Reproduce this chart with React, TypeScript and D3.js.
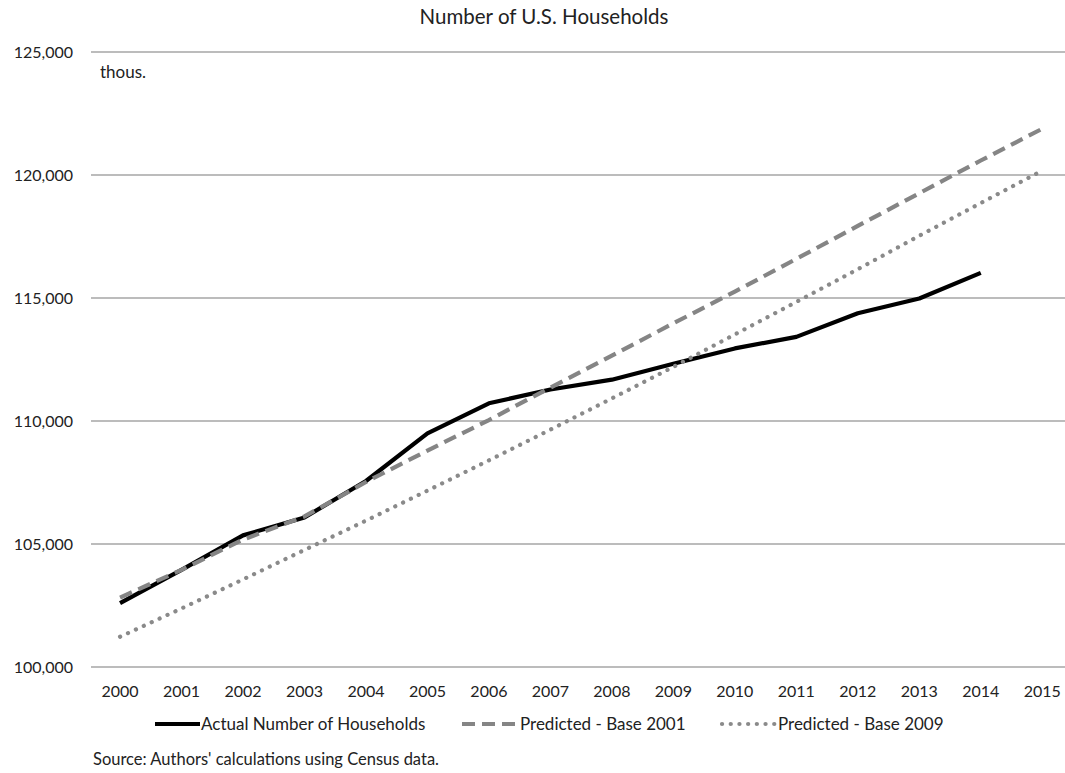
import React from "react";
import * as d3 from "d3";

const years = ["2000","2001","2002","2003","2004","2005","2006","2007","2008","2009","2010","2011","2012","2013","2014","2015"];

// Households, thousands
const actual = [102600, 103950, 105350, 106080, 107560, 109500, 110720, 111280, 111680, 112330, 112950, 113420, 114380, 114980, 116020];
const predicted2001 = [102820, 103950, 105180, 106120, 107520, 108800, 110040, 111360, 112660, 113970, 115260, 116590, 117930, 119260, 120590, 121880];
const predicted2009 = [101230, 102380, 103560, 104760, 105950, 107170, 108400, 109650, 110920, 112200, 113520, 114840, 116170, 117530, 118860, 120180];

const yTicks = [100000, 105000, 110000, 115000, 120000, 125000];

const W = 1065;
const H = 773;
const FONT = "Lato, 'Open Sans', sans-serif";

export default function App() {
  const x = d3.scalePoint<string>().domain(years).range([89.3, 1073]).padding(0.5);
  const y = d3.scaleLinear().domain([100000, 125000]).range([667, 52]);
  const line = d3
    .line<number>()
    .x((_, i) => x(years[i]) as number)
    .y((d) => y(d));

  const fmt = d3.format(",");

  const series = [
    { name: "Actual Number of Households", values: actual, stroke: "#000000", dash: "none", cap: "butt" as const, lx: 155, lw: 45 },
    { name: "Predicted - Base 2001", values: predicted2001, stroke: "#858585", dash: "13 7", cap: "butt" as const, lx: 462, lw: 57 },
    { name: "Predicted - Base 2009", values: predicted2009, stroke: "#8a8a8a", dash: "0.1 8.6", cap: "round" as const, lx: 722, lw: 55 },
  ];

  return (
    <svg
      width={W}
      height={H}
      style={{ position: "absolute", left: 0, top: 0, background: "#fff" }}
      fontFamily={FONT}
    >
      <rect width={W} height={H} fill="#fff" />
      <text x={544} y={24} textAnchor="middle" fontSize={20.5} fill="#222">
        Number of U.S. Households
      </text>

      {yTicks.map((t) => (
        <g key={t}>
          <line x1={91} x2={W} y1={y(t)} y2={y(t)} stroke="#a6a6a6" strokeWidth={1.3} />
          <text x={73} y={y(t) + 5.5} textAnchor="end" fontSize={16} fill="#222">
            {fmt(t)}
          </text>
        </g>
      ))}

      <text x={100} y={78} fontSize={17} fill="#222">thous.</text>

      {years.map((yr) => (
        <text key={yr} x={x(yr)} y={697} textAnchor="middle" fontSize={16} fill="#222">
          {yr}
        </text>
      ))}

      {series.map((s) => (
        <path
          key={s.name}
          d={line(s.values) ?? ""}
          fill="none"
          stroke={s.stroke}
          strokeWidth={4.2}
          strokeDasharray={s.dash}
          strokeLinecap={s.cap}
          strokeLinejoin="round"
        />
      ))}

      {series.map((s) => (
        <g key={"lg" + s.name}>
          <line
            x1={s.lx}
            x2={s.lx + s.lw}
            y1={724}
            y2={724}
            stroke={s.stroke}
            strokeWidth={4.2}
            strokeDasharray={s.dash}
            strokeLinecap={s.cap}
          />
          <text x={s.lx + s.lw + 1} y={730} fontSize={17} fill="#222">
            {s.name}
          </text>
        </g>
      ))}

      <text x={93} y={765} fontSize={16.5} fill="#222">
        Source: Authors' calculations using Census data.
      </text>
    </svg>
  );
}
